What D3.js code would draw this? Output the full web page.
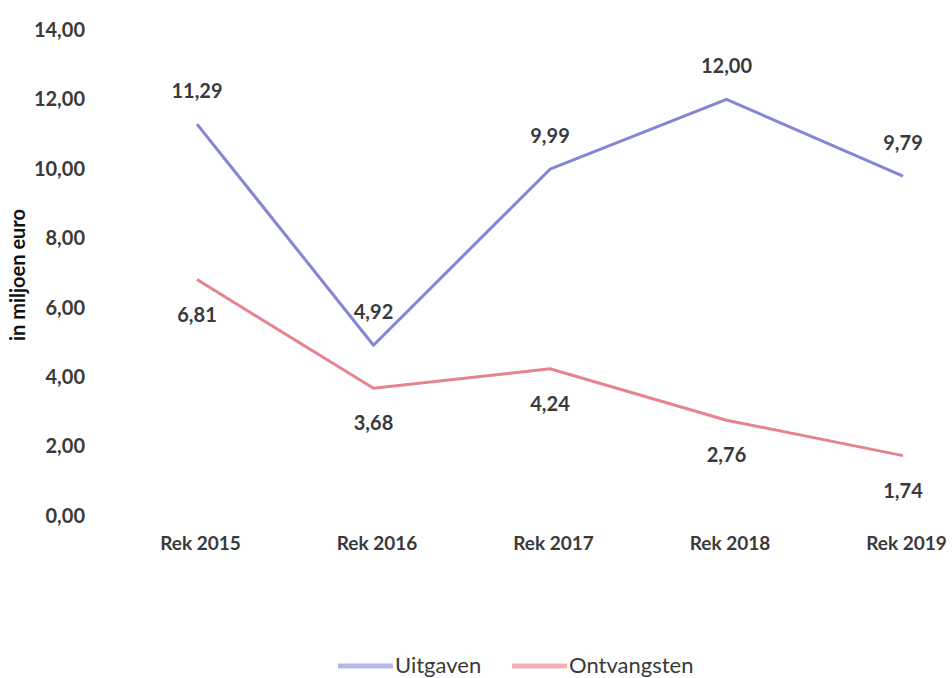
<!DOCTYPE html>
<html>
<head>
<meta charset="utf-8">
<script src="https://cdn.jsdelivr.net/npm/d3@7"></script>
<style>
  body { margin: 0; background: #fff; }
  text { font-family: Lato, "Open Sans", sans-serif; font-weight: bold; fill: #3a3a3a; }
</style>
</head>
<body>
<div id="chart"></div>
<script>
// gegevens
let categories = ["Rek 2015", "Rek 2016", "Rek 2017", "Rek 2018", "Rek 2019"];
let uitgaven = [11.29, 4.92, 9.99, 12.00, 9.79];
let ontvangsten = [6.81, 3.68, 4.24, 2.76, 1.74];
let yTicks = [0, 2, 4, 6, 8, 10, 12, 14];

let fullWidth = 952, fullHeight = 678;
let margin = { top: 30, right: 49, bottom: 162, left: 110 };
let width = fullWidth - margin.left - margin.right;
let height = fullHeight - margin.top - margin.bottom;

let svg = d3.select("#chart")
    .append("svg")
    .attr("width", fullWidth)
    .attr("height", fullHeight);

let g = svg.append("g")
    .attr("transform", `translate(${margin.left},${margin.top})`);

let x = d3.scalePoint()
    .domain(categories)
    .range([87, width])
    .padding(0);

let y = d3.scaleLinear()
    .domain([0, 14])
    .range([height, 0]);

let fmt = v => d3.format(".2f")(v).replace(".", ",");

// y-as
let yAxis = g.append("g")
    .call(d3.axisLeft(y).tickValues(yTicks).tickFormat(fmt).tickSize(0).tickPadding(25));
yAxis.selectAll("text").style("font-size", "20px").attr("dy", "0.32em");
yAxis.select(".domain").remove();

// x-as
let xAxis = g.append("g")
    .attr("transform", `translate(0,${height})`)
    .call(d3.axisBottom(x).tickSize(0).tickPadding(21));
xAxis.selectAll("text").style("font-size", "19px").attr("dx", "3px");
xAxis.select(".domain").remove();

// astitel
svg.append("text")
    .attr("transform", `translate(25,${margin.top + height / 2 + 2}) rotate(-90)`)
    .attr("text-anchor", "middle")
    .style("font-size", "20px")
    .style("fill", "#111")
    .text("in miljoen euro");

let series = [
    { name: "Uitgaven", values: uitgaven, color: "#8585d6", legend: "#b3b8ea", dy: -26 },
    { name: "Ontvangsten", values: ontvangsten, color: "#e58490", legend: "#f4b1b3", dy: 42 }
];

let line = d3.line()
    .x((d, i) => x(categories[i]))
    .y(d => y(d));

series.forEach(s => {
    g.append("path")
        .datum(s.values)
        .attr("fill", "none")
        .attr("stroke", s.color)
        .attr("stroke-width", 3)
        .attr("stroke-linejoin", "round")
        .attr("d", line);

    g.selectAll(".lbl-" + s.name)
        .data(s.values)
        .enter()
        .append("text")
        .attr("x", (d, i) => x(categories[i]))
        .attr("y", d => y(d) + s.dy)
        .attr("text-anchor", "middle")
        .style("font-size", "20px")
        .text(d => fmt(d));
});

// legenda
let legendItems = [
    { x: 338, textX: 395 },
    { x: 512, textX: 569 }
];
series.forEach((s, i) => {
    let lg = svg.append("g").attr("transform", `translate(${legendItems[i].x},${fullHeight - 12})`);
    lg.append("line")
        .attr("x1", 0).attr("x2", 55)
        .attr("y1", 0).attr("y2", 0)
        .attr("stroke", s.legend)
        .attr("stroke-width", 5);
    lg.append("text")
        .attr("x", legendItems[i].textX - legendItems[i].x)
        .attr("y", 7)
        .style("font-size", "22px")
        .style("font-weight", "normal")
        .text(s.name);
});
</script>
</body>
</html>
